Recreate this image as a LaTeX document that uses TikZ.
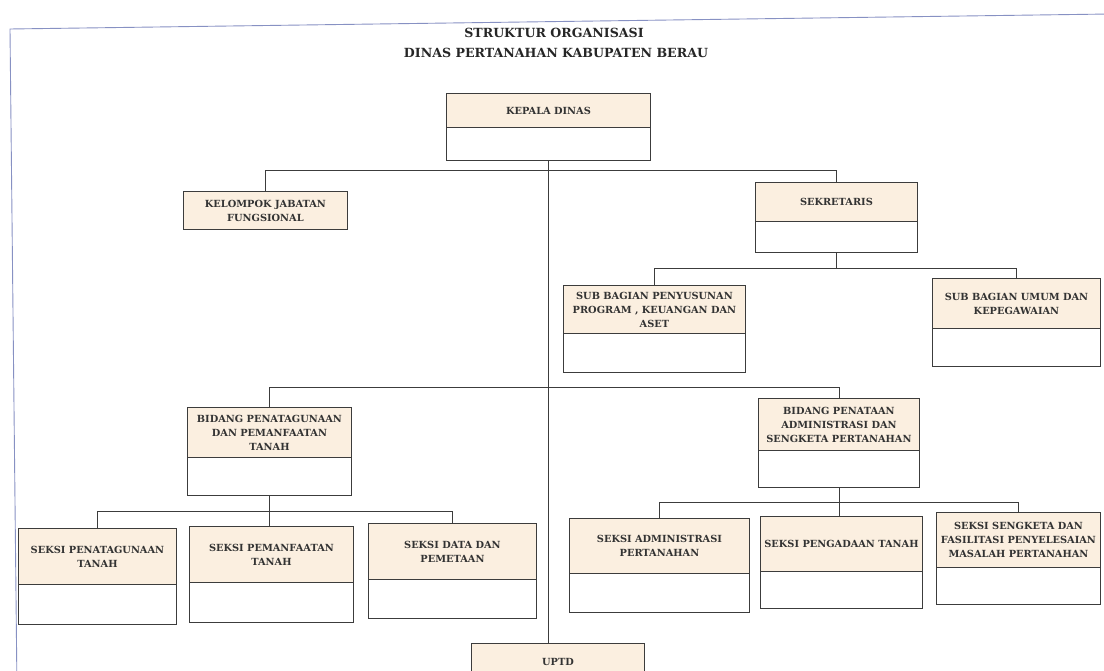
\documentclass[tikz,border=0pt]{standalone}
\usepackage{fontspec}
\setmainfont{DejaVu Serif}
\definecolor{hdrfill}{RGB}{251,239,224}
\definecolor{ln}{RGB}{60,60,60}
\definecolor{framec}{RGB}{135,145,195}
\tikzset{
  hdr/.style={draw=ln, line width=0.9pt, fill=hdrfill, inner sep=1pt, align=center,
    font=\bfseries\fontsize{9.8}{14}\selectfont, text=black!80},
  bodybox/.style={draw=ln, line width=0.9pt, fill=white, inner sep=0pt},
  conn/.style={draw=ln, line width=0.9pt},
  titletext/.style={font=\bfseries\fontsize{12.6}{14}\selectfont, text=black!85},
  framel/.style={draw=framec, line width=0.9pt}
}
% name, L, T, R, D (divider), B, text
\newcommand\orgbox[7]{%
  \node[hdr, minimum width={#4-#2}, minimum height={#5-#3}, anchor=north west] (#1) at (#2,#3) {#7};
  \node[bodybox, minimum width={#4-#2}, minimum height={#6-#5}, anchor=north west] (#1b) at (#2,#5) {};
}
\begin{document}
\begin{tikzpicture}[x=1pt,y=-1pt]
\useasboundingbox (0,0) rectangle (1104,671);
% frame
\coordinate (frTR) at (1110,14);
\coordinate (frTL) at (10,29);
\coordinate (frBL) at (17,690);
\draw[framel] (frTR) -- (frTL) -- (frBL);
% title
\node[titletext] (t1) at (554,33) {STRUKTUR ORGANISASI};
\node[titletext] (t2) at (556,53) {DINAS PERTANAHAN KABUPATEN BERAU};
% boxes
\orgbox{kepala}{446}{93}{650}{127}{160}{KEPALA DINAS}
\node[hdr, minimum width=164, minimum height=38, anchor=north west] (kel) at (183,191) {KELOMPOK JABATAN\\FUNGSIONAL};
\orgbox{sek}{755}{182}{917}{221}{252}{SEKRETARIS}
\orgbox{subA}{563}{285}{745}{333}{372}{SUB BAGIAN PENYUSUNAN\\PROGRAM , KEUANGAN DAN\\ASET}
\orgbox{subB}{932}{278}{1100}{328}{366}{SUB BAGIAN UMUM DAN\\KEPEGAWAIAN}
\orgbox{bidA}{187}{407}{351}{457}{495}{BIDANG PENATAGUNAAN\\DAN PEMANFAATAN\\TANAH}
\orgbox{bidB}{758}{398}{919}{450}{487}{BIDANG PENATAAN\\ADMINISTRASI DAN\\SENGKETA PERTANAHAN}
\orgbox{sA}{18}{528}{176}{584}{624}{SEKSI PENATAGUNAAN\\TANAH}
\orgbox{sB}{189}{526}{353}{582}{622}{SEKSI PEMANFAATAN\\TANAH}
\orgbox{sC}{368}{523}{536}{579}{618}{SEKSI DATA DAN\\PEMETAAN}
\orgbox{sD}{569}{518}{749}{573}{612}{SEKSI ADMINISTRASI\\PERTANAHAN}
\orgbox{sE}{760}{516}{922}{571}{608}{SEKSI PENGADAAN TANAH}
\orgbox{sF}{936}{512}{1100}{567}{604}{SEKSI SENGKETA DAN\\FASILITASI PENYELESAIAN\\MASALAH PERTANAHAN}
\node[hdr, minimum width=173, minimum height=37, anchor=north west] (uptd) at (471,643) {UPTD};
% connectors
\draw[conn] (kepalab.south) -- (kepalab.south |- uptd.north);
\draw[conn] (kel.north) -- ++(0,-21) -| (sek.north);
\draw[conn] (sekb.south) -- ++(0,16) -| (subA.north);
\draw[conn] (sekb.south) ++(0,16) -| (subB.north);
\draw[conn] (bidA.north) -- ++(0,-20) -| (bidB.north);
\draw[conn] (bidAb.south) -- ++(0,16) -| (sA.north);
\draw[conn] (bidAb.south) ++(0,16) -| (sC.north);
\draw[conn] (bidAb.south) -- (bidAb.south |- sB.north);
\draw[conn] (bidBb.south) -- ++(0,15) -| (sD.north);
\draw[conn] (bidBb.south) ++(0,15) -| (sF.north);
\draw[conn] (bidBb.south) -- (bidBb.south |- sE.north);
\end{tikzpicture}
\end{document}
